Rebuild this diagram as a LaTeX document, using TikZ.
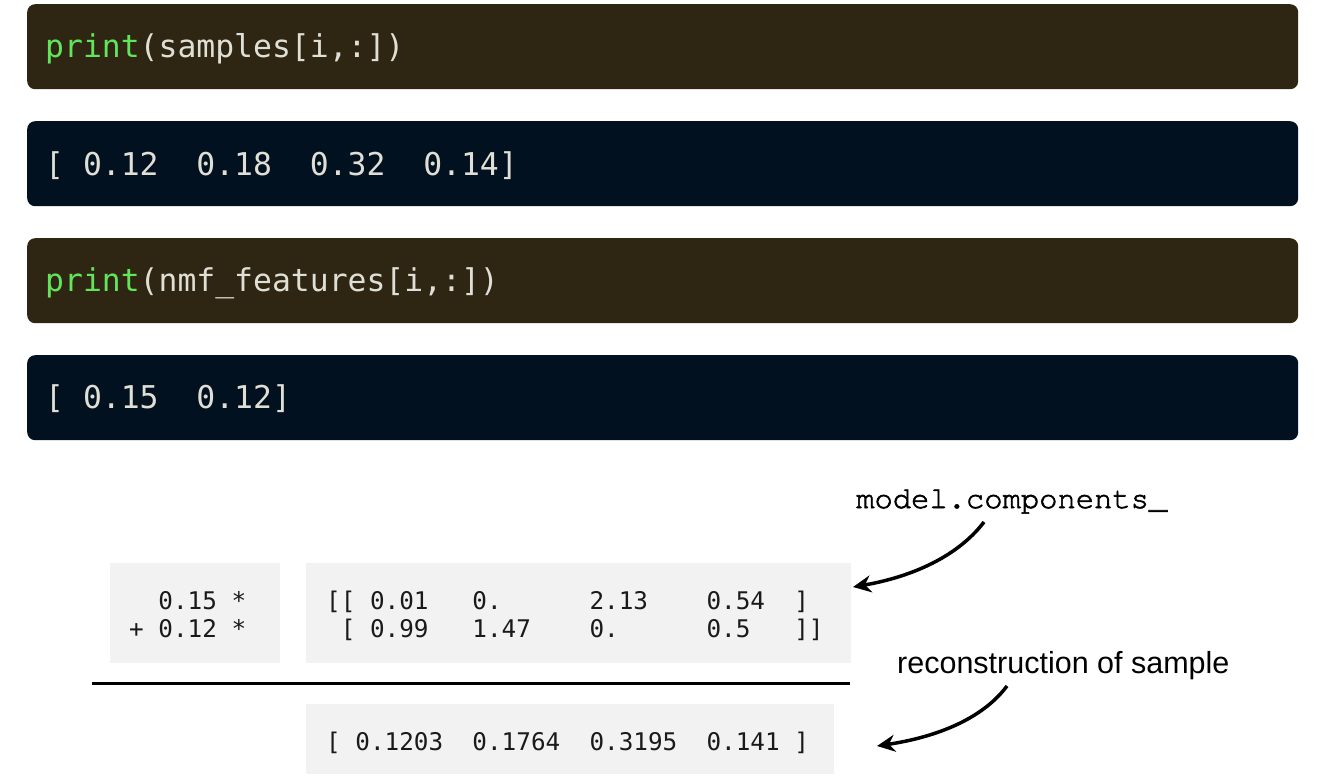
\documentclass[tikz,border=0pt]{standalone}
\usepackage{fontspec}
\setmonofont{DejaVu Sans Mono}
\newfontfamily\cour[FakeBold=2]{TeX Gyre Cursor}
\newfontfamily\helv{Liberation Sans}
\usetikzlibrary{arrows.meta}
\definecolor{barbrown}{HTML}{2E2613}
\definecolor{barnavy}{HTML}{01111F}
\definecolor{codegreen}{HTML}{62E55A}
\definecolor{codetext}{HTML}{E0DFD6}
\definecolor{panel}{HTML}{F2F2F2}
\definecolor{ink}{HTML}{1A1A1A}
\begin{document}
\begin{tikzpicture}[x=1pt,y=-1pt,
  bar/.style={rounded corners=8pt, draw=none, anchor=north west, minimum width=1271pt, minimum height=85pt, inner sep=0pt},
  incode/.style={bar, fill=barbrown},
  outcode/.style={bar, fill=barnavy},
  codeline/.style={anchor=base west, inner sep=0pt, font=\fontsize{31.4}{36}\ttfamily, text=codetext},
  panelbox/.style={fill=panel, draw=none, anchor=north west, inner sep=0pt},
  small/.style={anchor=base west, inner sep=0pt, font=\fontsize{24.3}{29}\ttfamily, text=ink},
  pointer/.style={line width=3.5pt, -{Stealth[length=18pt,width=17pt]}},
]
\useasboundingbox (0,0) rectangle (1318,784);

% code bars
\node[incode]  (b1) at (27,4)   {};
\node[outcode] (b2) at (27,121) {};
\node[incode]  (b3) at (27,238) {};
\node[outcode] (b4) at (27,355) {};

\node[codeline] (t1) at (45,58)    {{\color{codegreen}print}(samples[i,:])};
\node[codeline] (t2) at (45,175)   {[~0.12~~0.18~~0.32~~0.14]};
\node[codeline] (t3) at (45,291.5) {{\color{codegreen}print}(nmf\_features[i,:])};
\node[codeline] (t4) at (45,408.5) {[~0.15~~0.12]};

% light panels
\node[panelbox, minimum width=170pt, minimum height=100pt] (pa) at (110,563) {};
\node[panelbox, minimum width=545pt, minimum height=100pt] (pb) at (306,563) {};
\node[panelbox, minimum width=528pt, minimum height=70pt]  (pc) at (306,704) {};

\node[small] (w1) at (129,609) {~~0.15~*};
\node[small] (w2) at (129,637) {+~0.12~*};
\node[small] (m1) at (326,609) {[[~0.01~~~0.~~~~~~2.13~~~~0.54~~]};
\node[small] (m2) at (326,637) {~[~0.99~~~1.47~~~~0.~~~~~~0.5~~~]]};
\node[small] (r1) at (326,750) {[~0.1203~~0.1764~~0.3195~~0.141~]};

% rule
\coordinate (ls) at (92,683);
\coordinate (le) at (850,683);
\draw[line width=3pt] (ls) -- (le);

% labels
\node[anchor=base west, inner sep=0pt, font={\fontsize{30.5}{36}\cour}] (lcomp) at (856,508) {model.components\_};
\node[anchor=base west, inner sep=0pt, font={\fontsize{30.5}{36}\helv}] (lrec) at (897,673) {reconstruction of sample};

% pointers
\coordinate (a1s) at (984,522);
\coordinate (a1e) at (853,587);
\coordinate (a2s) at (1007,686);
\coordinate (a2e) at (877,746);
\draw[pointer] (a1s) .. controls (955,560) and (905,578) .. (a1e);
\draw[pointer] (a2s) .. controls (980,722) and (930,738) .. (a2e);
\end{tikzpicture}
\end{document}
